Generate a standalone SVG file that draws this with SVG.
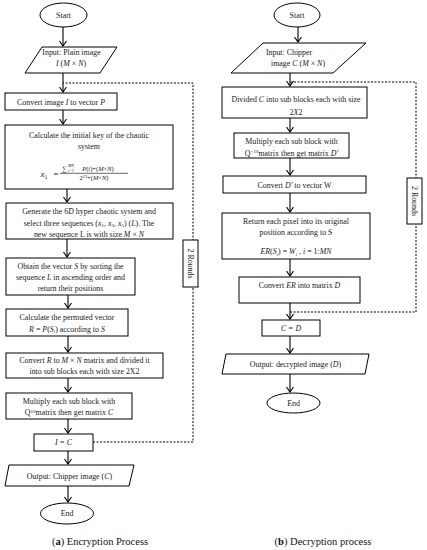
<svg xmlns="http://www.w3.org/2000/svg" width="427" height="550" viewBox="0 0 427 550">
<defs>
<marker id="ah" markerWidth="8" markerHeight="8" refX="6" refY="4" orient="auto" markerUnits="userSpaceOnUse">
<path d="M1,0.5 L6,4 L1,7.5" fill="none" stroke="#000" stroke-width="1.1"/>
</marker>
</defs>
<style>
.s{fill:#fff;stroke:#000;stroke-width:1}
.t{font-family:"Liberation Serif",serif;font-size:7.9px;fill:#1a1a1a;text-anchor:middle}
.i{font-style:italic}
.c{font-family:"Liberation Serif",serif;font-size:10.5px;fill:#111;text-anchor:middle}
.a{fill:none;stroke:#000;stroke-width:1.1;marker-end:url(#ah)}
.d{fill:none;stroke:#000;stroke-width:1;stroke-dasharray:2,1.5}
</style>
<rect width="427" height="550" fill="#fff"/>
<g id="connectors">
<path class="d" d="M93,442 H193 V83 H63"/>
<path class="d" d="M290,312 H416 V82 H290"/>
<line class="a" x1="63" y1="27" x2="63" y2="46"/>
<line class="a" x1="63" y1="73" x2="63" y2="92"/>
<line class="a" x1="63" y1="110" x2="63" y2="124"/>
<line class="a" x1="67" y1="189" x2="67" y2="202"/>
<line class="a" x1="67" y1="239" x2="67" y2="257"/>
<line class="a" x1="68" y1="295" x2="68" y2="308"/>
<line class="a" x1="68" y1="336" x2="68" y2="352"/>
<line class="a" x1="68" y1="378" x2="68" y2="392"/>
<line class="a" x1="68" y1="419" x2="68" y2="433"/>
<line class="a" x1="68" y1="451" x2="68" y2="464"/>
<line class="a" x1="68" y1="486" x2="68" y2="502"/>
<line class="a" x1="298" y1="27" x2="298" y2="42"/>
<line class="a" x1="290" y1="73" x2="290" y2="86"/>
<line class="a" x1="290" y1="118" x2="290" y2="132"/>
<line class="a" x1="290" y1="158" x2="290" y2="175"/>
<line class="a" x1="290" y1="193" x2="290" y2="212"/>
<line class="a" x1="290" y1="259" x2="290" y2="276"/>
<line class="a" x1="290" y1="303" x2="290" y2="319"/>
<line class="a" x1="290" y1="336" x2="290" y2="353"/>
<line class="a" x1="290" y1="374" x2="290" y2="392"/>
</g>
<g id="rounds-a">
<rect class="s" x="183" y="240" width="15" height="47"/>
<text class="t" transform="translate(190.5,263.5) rotate(90)" y="2.5">2 Rounds</text>
</g>
<g id="rounds-b">
<rect class="s" x="407" y="178" width="15" height="46"/>
<text class="t" transform="translate(414.5,201) rotate(90)" y="2.5">2 Rounds</text>
</g>
<g id="a-start">
<ellipse class="s" cx="63.5" cy="15" rx="23.5" ry="12"/>
<text class="t" x="63.5" y="17.5">Start</text>
</g>
<g id="a-input">
<polygon class="s" points="42,47 117,47 100,73 25,73"/>
<text class="t" x="71.5" y="55">Input: Plain image</text>
<text class="t" x="71" y="66"><tspan class="i">I</tspan> (<tspan class="i">M</tspan> × <tspan class="i">N</tspan>)</text>
</g>
<g id="a-convert">
<rect class="s" x="5" y="93" width="112" height="17"/>
<text class="t" x="61" y="104.5">Convert image <tspan class="i">I</tspan> to vector <tspan class="i">P</tspan></text>
</g>
<g id="a-key">
<rect class="s" x="5" y="125" width="168" height="64"/>
<text class="t" x="89" y="137.5">Calculate the initial key of the chaotic</text>
<text class="t" x="89" y="148.5">system</text>
<text class="t i" x="44" y="177" style="font-size:9px">x<tspan style="font-size:6px;font-style:normal" dy="1.5">1</tspan></text>
<text class="t" x="56" y="176.5" style="font-size:8.5px">=</text>
<line x1="60" y1="173.3" x2="128" y2="173.3" stroke="#000" stroke-width="0.6"/>
<text class="t" x="64.5" y="171" style="font-size:6.5px">∑</text>
<text class="t i" x="71" y="167.2" style="font-size:4px">MN</text>
<text class="t i" x="71" y="171.5" style="font-size:4px">i=1</text>
<text class="t" x="98" y="171" style="font-size:6.5px"><tspan class="i">P</tspan>(<tspan class="i">i</tspan>)+(<tspan class="i">M</tspan>×<tspan class="i">N</tspan>)</text>
<text class="t" x="94" y="180" style="font-size:6.5px">2<tspan style="font-size:4.3px" dy="-2.2">23</tspan><tspan dy="2.2">+(</tspan><tspan class="i">M</tspan>×<tspan class="i">N</tspan>)</text>
</g>
<g id="a-generate">
<rect class="s" x="6" y="203" width="167" height="36"/>
<text class="t" x="89" y="214">Generate the 6D hyper chaotic system and</text>
<text class="t" x="89" y="225.5">select three sequences (<tspan class="i">x</tspan><tspan style="font-size:5px" dy="1.5">1</tspan><tspan dy="-1.5">, </tspan><tspan class="i">x</tspan><tspan style="font-size:5px" dy="1.5">3</tspan><tspan dy="-1.5">, </tspan><tspan class="i">x</tspan><tspan style="font-size:5px" dy="1.5">5</tspan><tspan dy="-1.5">) (</tspan><tspan class="i">L</tspan>). The</text>
<text class="t" x="89" y="236.5">new sequence L is with size <tspan class="i">M</tspan> × <tspan class="i">N</tspan></text>
</g>
<g id="a-obtain">
<rect class="s" x="6" y="258" width="129" height="37"/>
<text class="t" x="70.5" y="268.5">Obtain the vector <tspan class="i">S</tspan> by sorting the</text>
<text class="t" x="70.5" y="279.5">sequence <tspan class="i">L</tspan> in ascending order and</text>
<text class="t" x="70.5" y="290.5">return their positions</text>
</g>
<g id="a-permute">
<rect class="s" x="6" y="309" width="122" height="27"/>
<text class="t" x="67" y="320">Calculate the permuted vector</text>
<text class="t" x="67" y="331.5"><tspan class="i">R</tspan> = <tspan class="i">P</tspan>(<tspan class="i">S</tspan><tspan class="i" style="font-size:5px" dy="1.5">i</tspan><tspan dy="-1.5">) according to </tspan><tspan class="i">S</tspan></text>
</g>
<g id="a-convertR">
<rect class="s" x="6" y="353" width="157" height="25"/>
<text class="t" x="84.5" y="362.5">Convert <tspan class="i">R</tspan> to <tspan class="i">M</tspan> × <tspan class="i">N</tspan> matrix and divided it</text>
<text class="t" x="84.5" y="374">into sub blocks each with size 2X2</text>
</g>
<g id="a-multiply">
<rect class="s" x="6" y="393" width="126" height="26"/>
<text class="t" x="69" y="403.5">Multiply each sub block with</text>
<text class="t" x="69" y="415">Q<tspan style="font-size:5px" dy="-2.5">10</tspan><tspan dy="2.5">matrix then get matrix </tspan><tspan class="i">C</tspan></text>
</g>
<g id="a-assign">
<rect class="s" x="34" y="434" width="59" height="17"/>
<text class="t i" x="63.5" y="445">I = C</text>
</g>
<g id="a-output">
<polygon class="s" points="9,465 134,465 129,486 5,486"/>
<text class="t" x="69.5" y="478.5">Output: Chipper image (<tspan class="i">C</tspan>)</text>
</g>
<g id="a-end">
<ellipse class="s" cx="67" cy="513.5" rx="26.5" ry="10.5"/>
<text class="t" x="67" y="516">End</text>
</g>
<g id="b-start">
<ellipse class="s" cx="297" cy="15" rx="23" ry="12"/>
<text class="t" x="297" y="17.5">Start</text>
</g>
<g id="b-input">
<polygon class="s" points="263,43 366,43 333,73 231,73"/>
<text class="t" x="289" y="54.5">Input: Chipper</text>
<text class="t" x="298" y="65.5">image <tspan class="i">C</tspan> (<tspan class="i">M</tspan> × <tspan class="i">N</tspan>)</text>
</g>
<g id="b-divide">
<rect class="s" x="222" y="87" width="145" height="31"/>
<text class="t" x="296" y="102">Divided <tspan class="i">C</tspan> into sub blocks each with size</text>
<text class="t" x="296" y="114.5">2<tspan class="i">X</tspan>2</text>
</g>
<g id="b-multiply">
<rect class="s" x="234" y="133" width="115" height="25"/>
<text class="t" x="291.5" y="144">Multiply each sub block with</text>
<text class="t" x="291.5" y="155.5">Q<tspan style="font-size:5px" dy="-2.5">−10</tspan><tspan dy="2.5">matrix then get matrix </tspan><tspan class="i">D′</tspan></text>
</g>
<g id="b-convertD">
<rect class="s" x="223" y="176" width="143" height="17"/>
<text class="t" x="294.5" y="187.5">Convert <tspan class="i">D′</tspan> to vector W</text>
</g>
<g id="b-return">
<rect class="s" x="222" y="213" width="148" height="46"/>
<text class="t" x="296" y="223.5">Return each pixel into its original</text>
<text class="t" x="296" y="234.5">position according to S</text>
<text class="t" x="296" y="254"><tspan class="i">ER</tspan>(<tspan class="i">S</tspan><tspan class="i" style="font-size:5px" dy="1.5">i</tspan><tspan dy="-1.5">) = </tspan><tspan class="i">W</tspan><tspan class="i" style="font-size:5px" dy="1.5">i</tspan><tspan dy="-1.5"> ,  </tspan><tspan class="i">i</tspan> = 1:<tspan class="i">MN</tspan></text>
</g>
<g id="b-convertER">
<rect class="s" x="239" y="277" width="121" height="26"/>
<text class="t" x="299.5" y="288">Convert <tspan class="i">ER</tspan> into matrix <tspan class="i">D</tspan></text>
</g>
<g id="b-assign">
<rect class="s" x="262" y="320" width="58" height="16"/>
<text class="t i" x="291" y="330.5">C = D</text>
</g>
<g id="b-output">
<polygon class="s" points="226,354 369,354 365,374 222,374"/>
<text class="t" x="295.5" y="366.5">Output: decrypted image (<tspan class="i">D</tspan>)</text>
</g>
<g id="b-end">
<ellipse class="s" cx="293.5" cy="403" rx="26.5" ry="10"/>
<text class="t" x="293.5" y="405.5">End</text>
</g>
<g id="captions">
<text class="c" x="100" y="545">(<tspan font-weight="bold">a</tspan>) Encryption Process</text>
<text class="c" x="323" y="545">(<tspan font-weight="bold">b</tspan>) Decryption process</text>
</g>
</svg>
